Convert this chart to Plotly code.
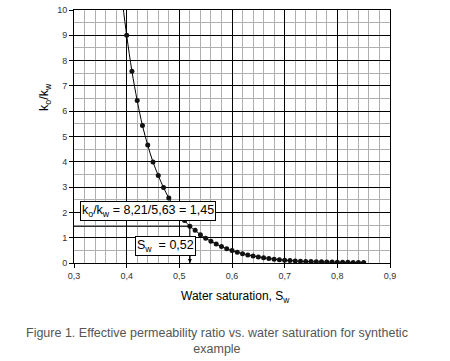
import plotly.graph_objects as go

sw = [0.40, 0.41, 0.42, 0.43, 0.44, 0.45, 0.46, 0.47, 0.48, 0.49,
      0.50, 0.51, 0.52, 0.53, 0.54, 0.55, 0.56, 0.57, 0.58, 0.59,
      0.60, 0.61, 0.62, 0.63, 0.64, 0.65, 0.66, 0.67, 0.68, 0.69,
      0.70, 0.71, 0.72, 0.73, 0.74, 0.75, 0.76, 0.77, 0.78, 0.79,
      0.80, 0.81, 0.82, 0.83, 0.84, 0.85]
ratio = [9.00, 7.58, 6.42, 5.43, 4.66, 3.99, 3.46, 2.98, 2.57, 2.22,
         1.93, 1.68, 1.45, 1.29, 1.12, 0.98, 0.86, 0.75, 0.65, 0.56,
         0.49, 0.42, 0.37, 0.32, 0.28, 0.24, 0.21, 0.18, 0.15, 0.13,
         0.11, 0.10, 0.08, 0.07, 0.06, 0.055, 0.05, 0.045, 0.04, 0.035,
         0.03, 0.028, 0.025, 0.022, 0.02, 0.018]
# curve continues above the first measured point
curve_x = [0.392] + sw
curve_y = [10.3] + ratio

x_ticks = [0.3, 0.4, 0.5, 0.6, 0.7, 0.8, 0.9]
x_ticklabels = ["0,3", "0,4", "0,5", "0,6", "0,7", "0,8", "0,9"]
y_ticks = [0, 1, 2, 3, 4, 5, 6, 7, 8, 9, 10]

sw_pick = [0.52, 0.52]
ratio_pick = [1.45, 0.0]
hline_x = [0.3, 0.52]
hline_y = [1.45, 1.45]

font = "Liberation Sans, Arial, sans-serif"

fig = go.Figure()
fig.add_trace(go.Scatter(x=curve_x, y=curve_y, mode="lines",
                         line=dict(color="black", width=1, shape="spline"),
                         showlegend=False, hoverinfo="skip"))
fig.add_trace(go.Scatter(x=sw, y=ratio, mode="markers",
                         marker=dict(color="#111", size=5),
                         showlegend=False))
fig.add_trace(go.Scatter(x=hline_x, y=hline_y, mode="lines",
                         line=dict(color="black", width=1),
                         showlegend=False, hoverinfo="skip"))
fig.add_trace(go.Scatter(x=sw_pick, y=ratio_pick, mode="lines",
                         line=dict(color="black", width=1),
                         showlegend=False, hoverinfo="skip"))

fig.add_annotation(x=0.52, y=0.0, ax=0.52, ay=0.45, xref="x", yref="y",
                   axref="x", ayref="y", showarrow=True, arrowhead=2,
                   arrowsize=0.8, arrowwidth=1, arrowcolor="black", text="")

fig.add_annotation(x=0.3114, y=2.04, xref="x", yref="y", xanchor="left",
                   yanchor="middle", showarrow=False,
                   text="k<sub>o</sub>/k<sub>w</sub> = 8,21/5,63 = 1,45",
                   font=dict(family=font, size=12.5, color="black"),
                   bgcolor="white", bordercolor="black", borderwidth=1,
                   borderpad=1)
fig.add_annotation(x=0.4745, y=0.69, xref="x", yref="y", xanchor="center",
                   yanchor="middle", showarrow=False,
                   text="S<sub>w</sub>  = 0,52",
                   font=dict(family=font, size=12.5, color="black"),
                   bgcolor="white", bordercolor="black", borderwidth=1,
                   borderpad=1)

# y-axis title (placed in the upper part, as in the reference)
fig.add_annotation(x=-0.092, y=0.656, xref="paper", yref="paper",
                   xanchor="center", yanchor="middle", showarrow=False,
                   textangle=-90,
                   text="k<sub>o</sub>/k<sub>w</sub>",
                   font=dict(family=font, size=12.5, color="black"))

fig.add_annotation(x=0.512, y=-0.135, xref="paper", yref="paper",
                   xanchor="center", yanchor="middle", showarrow=False,
                   text="Water saturation, S<sub>w</sub>",
                   font=dict(family=font, size=12, color="black"))
fig.add_annotation(x=0.4525, y=-0.308, xref="paper", yref="paper",
                   xanchor="center", yanchor="middle", showarrow=False,
                   text="Figure 1. Effective permeability ratio vs. water saturation for synthetic<br>example",
                   align="center",
                   font=dict(family=font, size=12.5, color="#555"))

fig.update_xaxes(range=[0.3, 0.9], tickvals=x_ticks, ticktext=x_ticklabels,
                 showgrid=True, gridcolor="black", gridwidth=1,
                 minor=dict(dtick=0.02, tick0=0.3, showgrid=True,
                            gridcolor="#b0b0b0", gridwidth=1),
                 showline=True, linecolor="black", linewidth=1, mirror=True,
                 zeroline=False, ticks="outside", ticklen=4, tickcolor="black",
                 tickfont=dict(family=font, size=9, color="#333"),
                 automargin=False)
fig.update_yaxes(range=[0, 10], tickvals=y_ticks,
                 showgrid=True, gridcolor="black", gridwidth=1,
                 minor=dict(dtick=0.5, tick0=0, showgrid=True,
                            gridcolor="#b0b0b0", gridwidth=1),
                 showline=True, linecolor="black", linewidth=1, mirror=True,
                 zeroline=False, ticks="outside", ticklen=4, tickcolor="black",
                 tickfont=dict(family=font, size=9, color="#333"),
                 automargin=False)

fig.update_layout(width=450, height=361,
                  margin=dict(l=74, r=60, t=10, b=98),
                  plot_bgcolor="white", paper_bgcolor="white")

# remove the default 8px page margin so the figure fills the window exactly
fig.write_html("out.html", config={"displayModeBar": False},
               post_script="document.body.style.margin='0px';")
